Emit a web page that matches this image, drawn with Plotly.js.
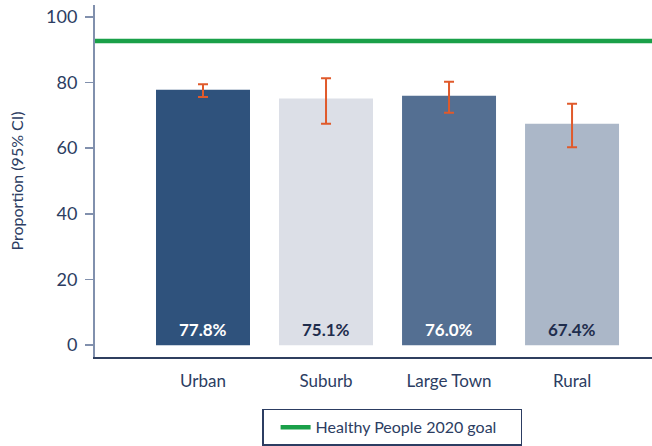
<!DOCTYPE html>
<html>
<head>
<meta charset="utf-8">
<script src="https://cdn.plot.ly/plotly-3.0.1.min.js"></script>
<style>html,body{margin:0;padding:0;background:#fff;}#chart{width:652px;height:446px;}</style>
</head>
<body>
<div id="chart"></div>
<script>
var categories = ["Urban", "Suburb", "Large Town", "Rural"];
var values = [77.8, 75.1, 76.0, 67.4];
var ciUpper = [79.5, 81.3, 80.2, 73.5];
var ciLower = [75.6, 67.4, 70.8, 60.3];
var valueLabels = ["77.8%", "75.1%", "76.0%", "67.4%"];
var goalValue = 92.6;
var goalName = "Healthy People 2020 goal";
var yTicks = [0, 20, 40, 60, 80, 100];

var barColors = ["#2f527c", "#dcdfe7", "#546f92", "#abb7c8"];
var labelColors = ["#ffffff", "#1f2d4d", "#ffffff", "#1f2d4d"];
var navy = "#2c3d62";
var font = "Lato, 'Noto Sans', sans-serif";

var xIdx = categories.map(function (c, i) { return i; });
var xRange = [-0.878, 3.65];

var bars = {
  type: "bar",
  x: xIdx,
  y: values,
  width: 0.764,
  marker: { color: barColors },
  error_y: {
    type: "data",
    symmetric: false,
    array: values.map(function (v, i) { return ciUpper[i] - v; }),
    arrayminus: values.map(function (v, i) { return v - ciLower[i]; }),
    color: "#e05a2b",
    thickness: 2,
    width: 5
  },
  showlegend: false,
  hoverinfo: "none"
};

var goal = {
  type: "scatter",
  mode: "lines",
  x: xRange,
  y: [goalValue, goalValue],
  name: goalName,
  line: { color: "#1aa049", width: 4.5 },
  showlegend: true,
  hoverinfo: "none"
};

var annotations = categories.map(function (c, i) {
  return {
    x: i, y: 4.8, xref: "x", yref: "y",
    text: "<b>" + valueLabels[i] + "</b>",
    showarrow: false,
    yanchor: "middle",
    font: { family: font, size: 17, color: labelColors[i] }
  };
});

var layout = {
  width: 652,
  height: 446,
  margin: { l: 95, r: 0, t: 5, b: 87 },
  paper_bgcolor: "#ffffff",
  plot_bgcolor: "#ffffff",
  font: { family: font, color: navy },
  showlegend: true,
  legend: {
    x: 0.30, xanchor: "left",
    y: -0.147, yanchor: "top",
    bordercolor: navy, borderwidth: 1.5,
    bgcolor: "#ffffff",
    font: { family: font, size: 16, color: navy },
    orientation: "h",
    indentation: 12,
    entrywidth: 200
  },
  xaxis: {
    range: xRange,
    tickvals: xIdx,
    ticktext: categories,
    showgrid: false,
    zeroline: false,
    showline: true,
    linecolor: "#2f3f5f",
    linewidth: 2,
    ticks: "",
    tickfont: { family: font, size: 17, color: navy },
    ticklabelstandoff: 8,
    fixedrange: true
  },
  yaxis: {
    range: [-3.6, 103.6],
    tickvals: yTicks,
    showgrid: false,
    zeroline: false,
    showline: true,
    linecolor: "#8190ad",
    linewidth: 2,
    ticks: "outside",
    ticklen: 8,
    tickwidth: 1.5,
    tickcolor: "#8190ad",
    tickfont: { family: font, size: 18, color: navy },
    ticklabelstandoff: 4,
    title: { text: "Proportion (95% CI)", font: { family: font, size: 16, color: navy }, standoff: 18 },
    fixedrange: true
  },
  annotations: annotations
};

Plotly.newPlot("chart", [bars, goal], layout, { displayModeBar: false, staticPlot: true });
</script>
</body>
</html>
